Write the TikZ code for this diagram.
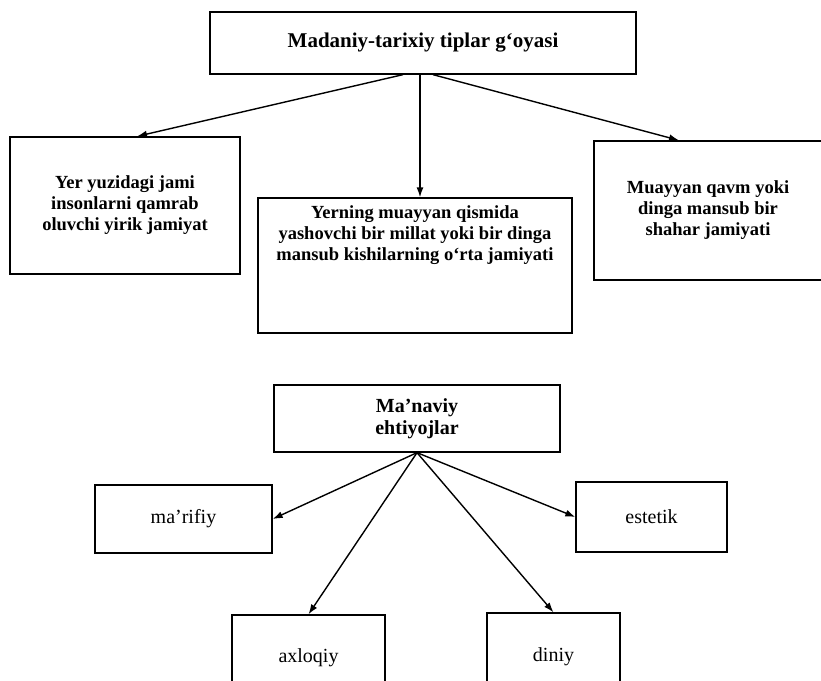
\documentclass[tikz,border=0pt]{standalone}
\usepackage{fontspec}
\setmainfont{Liberation Serif}
\usetikzlibrary{arrows.meta,calc}
\begin{document}
\begin{tikzpicture}[x=1pt,y=-1pt,
  box/.style={draw,line width=1.3pt,align=center,inner sep=0pt},
  arr/.style={-{Latex[length=10pt,width=7pt]},line width=1.4pt},
  bold19/.style={font=\fontsize{18.5}{21}\selectfont\bfseries},
  reg20/.style={font=\fontsize{20}{22}\selectfont}]
\useasboundingbox (0,0) rectangle (821,680);
% top diagram
\node[box,minimum width=426pt,minimum height=62pt,font=\fontsize{21}{23}\selectfont\bfseries] (top) at (423,43) {Madaniy-tarixiy tiplar g‘oyasi};
\node[box,bold19,minimum width=230pt,minimum height=137pt] (left) at (125,205.5) {Yer yuzidagi jami\\insonlarni qamrab\\oluvchi yirik jamiyat};
\node[box,minimum width=314pt,minimum height=135pt] (mid) at (415,265.5) {};
\node[bold19,align=center] (midtxt) at (415,235) {Yerning muayyan qismida\\yashovchi bir millat yoki bir dinga\\mansub kishilarning o‘rta jamiyati};
\node[box,bold19,minimum width=228pt,minimum height=139pt] (right) at (708,210.5) {Muayyan qavm yoki\\dinga mansub bir\\shahar jamiyati};
\draw[arr] ($(top.south)+(-20,0)$) -- ($(left.north)+(12,0)$);
\draw[arr] ($(top.south)+(-3,0)$) -- ($(mid.north)+(5,0)$);
\draw[arr] ($(top.south)+(10,0)$) -- ($(right.north)+(-29,0)$);
% bottom diagram
\node[box,minimum width=286pt,minimum height=67pt,font=\fontsize{20}{22}\selectfont\bfseries] (man) at (417,418.5) {Ma’naviy\\ehtiyojlar};
\node[box,reg20,minimum width=177pt,minimum height=68pt] (mar) at (183.5,519) {ma’rifiy};
\node[box,reg20,minimum width=151pt,minimum height=70pt] (est) at (651.5,517) {estetik};
\node[box,reg20,minimum width=153pt,minimum height=85pt] (axl) at (308.5,657.5) {axloqiy};
\node[box,reg20,minimum width=133pt,minimum height=87pt] (din) at (553.5,656.5) {diniy};
\draw[arr] (man.south) -- (mar.east);
\draw[arr] (man.south) -- (est.west);
\draw[arr] (man.south) -- (axl.north);
\draw[arr] (man.south) -- (din.north);
\end{tikzpicture}
\end{document}
